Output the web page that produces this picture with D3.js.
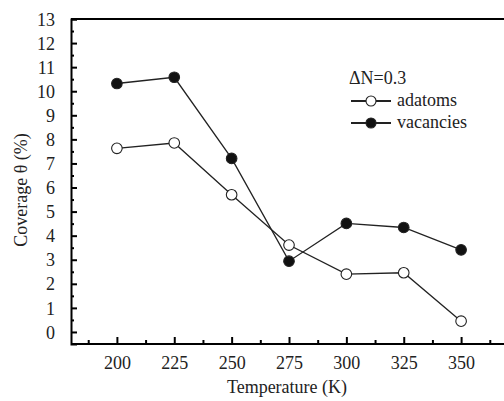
<!DOCTYPE html>
<html>
  <head>
    <meta charset="utf-8">
    <title>Coverage vs temperature</title>
    <script src="https://cdn.jsdelivr.net/npm/d3@7"></script>
    <style>
      body { margin: 0; background: #fff; }
      svg { display: block; }
      .axis path, .axis line { stroke: #000; }
    </style>
  </head>

  <body>
    <svg id="chart" width="504" height="401"></svg>

    <script>
      // data
      temps = [200, 225, 250, 275, 300, 325, 350];
      adatoms = [7.63, 7.85, 5.70, 3.61, 2.40, 2.46, 0.45];
      vacancies = [10.32, 10.58, 7.21, 2.94, 4.51, 4.34, 3.41];
      xTicks = [200, 225, 250, 275, 300, 325, 350];
      yTicks = d3.range(0, 14);
      legendTitle = "\u0394N=0.3";
      seriesNames = ["adatoms", "vacancies"];

      serif = "Liberation Serif";
      svg = d3.select("#chart");
      left = 71; top_ = 19; bottom = 344;

      x = d3.scaleLinear().domain([180, 370]).range([left, 507]);
      y = d3.scaleLinear().domain([-0.5, 13]).range([bottom, top_]);

      // frame top line
      svg.append("line")
        .attr("x1", left).attr("x2", 504)
        .attr("y1", top_).attr("y2", top_)
        .attr("stroke", "#000").attr("stroke-width", 2);

      // y axis: major + minor ticks pointing inward
      yAxis = svg.append("g").attr("class", "axis")
        .attr("transform", "translate(" + left + ",0)")
        .call(d3.axisLeft(y).tickValues(yTicks).tickSize(-6).tickPadding(16).tickFormat(d3.format("d")));
      yAxis.attr("font-family", serif).attr("font-size", 18);
      yAxis.select(".domain").attr("stroke-width", 2);
      yAxis.selectAll(".tick line").attr("stroke-width", 2);
      yAxis.selectAll("text").attr("dy", "0.34em").attr("fill", "#222");
      svg.append("g").attr("class", "axis")
        .attr("transform", "translate(" + left + ",0)")
        .call(d3.axisLeft(y).tickValues(d3.range(0.5, 13, 1)).tickSize(-3).tickFormat(""))
        .call(g => g.select(".domain").remove())
        .selectAll("line").attr("stroke-width", 2);

      // x axis
      xAxis = svg.append("g").attr("class", "axis")
        .attr("transform", "translate(0," + bottom + ")")
        .call(d3.axisBottom(x).tickValues(xTicks).tickSize(-7).tickPadding(12).tickSizeOuter(0));
      xAxis.attr("font-family", serif).attr("font-size", 18);
      xAxis.select(".domain").attr("stroke-width", 2).attr("d", "M" + left + ",0H504");
      xAxis.selectAll(".tick line").attr("stroke-width", 2);
      xAxis.selectAll("text").attr("fill", "#222");
      svg.append("g").attr("class", "axis")
        .attr("transform", "translate(0," + bottom + ")")
        .call(d3.axisBottom(x).tickValues(d3.range(187.5, 370, 25)).tickSize(-4).tickFormat(""))
        .call(g => g.select(".domain").remove())
        .selectAll("line").attr("stroke-width", 2);

      // axis titles
      svg.append("text")
        .attr("x", 287).attr("y", 393)
        .attr("text-anchor", "middle")
        .attr("font-family", serif).attr("font-size", 18).attr("fill", "#222")
        .text("Temperature (K)");
      svg.append("text")
        .attr("transform", "translate(27,190) rotate(-90)")
        .attr("text-anchor", "middle")
        .attr("font-family", serif).attr("font-size", 18).attr("fill", "#222")
        .text("Coverage \u03b8 (%)");

      // series
      line = d3.line().x((d, i) => x(temps[i])).y(d => y(d));
      series = [
        { name: seriesNames[0], values: adatoms, fill: "#fff" },
        { name: seriesNames[1], values: vacancies, fill: "#111" }
      ];
      series.forEach(function(s) {
        svg.append("path")
          .attr("d", line(s.values))
          .attr("fill", "none").attr("stroke", "#222").attr("stroke-width", 1.3);
        svg.selectAll(null)
          .data(s.values)
          .enter().append("circle")
            .attr("cx", (d, i) => x(temps[i]))
            .attr("cy", d => y(d))
            .attr("r", 5.3)
            .attr("fill", s.fill)
            .attr("stroke", "#222").attr("stroke-width", 1.1);
      });

      // legend
      legend = svg.append("g").attr("transform", "translate(349,0)")
        .attr("font-family", serif).attr("font-size", 18);
      legend.append("text")
        .attr("x", 0).attr("y", 84)
        .attr("fill", "#222")
        .text(legendTitle);
      series.forEach(function(s, i) {
        let ly = 101 + i * 22;
        legend.append("line")
          .attr("x1", 2).attr("x2", 42).attr("y1", ly).attr("y2", ly)
          .attr("stroke", "#222").attr("stroke-width", 2);
        legend.append("circle")
          .attr("cx", 22).attr("cy", ly).attr("r", 5)
          .attr("fill", s.fill).attr("stroke", "#222").attr("stroke-width", 1.1);
        legend.append("text")
          .attr("x", 48).attr("y", ly + 5)
          .attr("fill", "#222")
          .text(s.name);
      });
    </script>
  </body>
</html>
